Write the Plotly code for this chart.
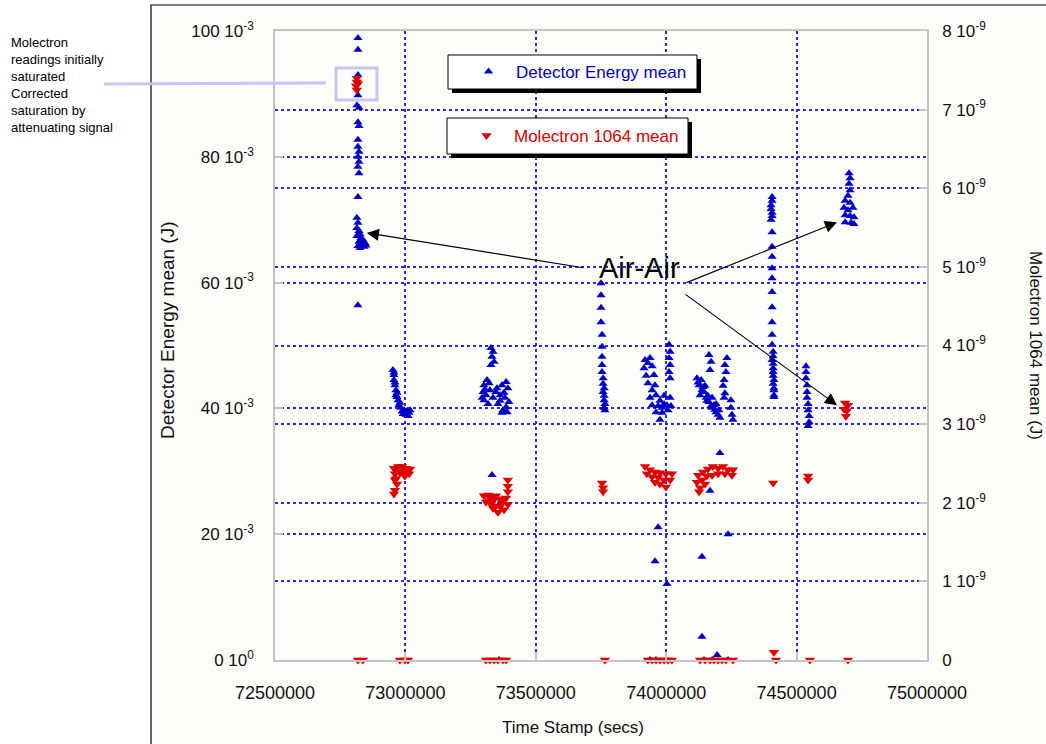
import plotly.graph_objects as go

# ---------------- data: Detector Energy mean (J), left axis ----------------
det_time_a = [72818000, 72818000, 72818000, 72818000, 72814000, 72822000, 72818000, 72822000, 72818000, 72818000,
              72822000, 72818000, 72822000, 72818000, 72822000, 72818000, 72814000, 72818000, 72814000, 72822000,
              72826000, 72814000, 72830000, 72837000, 72822000, 72845000, 72834000, 72818000, 72849000, 72826000,
              72818000, 72841000, 72830000]
det_energy_a = [0.0989, 0.0970, 0.0930, 0.0898, 0.0882, 0.0878, 0.0855, 0.0849, 0.0827, 0.0816,
                0.0808, 0.0800, 0.0792, 0.0784, 0.0774, 0.0736, 0.0703, 0.0695, 0.0687, 0.0682,
                0.0677, 0.0674, 0.0671, 0.0668, 0.0665, 0.0663, 0.0660, 0.0658, 0.0659, 0.0655,
                0.0564, 0.0657, 0.0662]

det_time_b = [72952000, 72956000, 72956000, 72960000, 72964000, 72964000, 72968000, 72972000, 72979000, 72975000,
              72983000, 72995000, 73006000, 73018000, 72991000, 73010000, 72956000, 72960000, 72968000, 72987000,
              73002000, 73014000]
det_energy_b = [0.0461, 0.0453, 0.0445, 0.0437, 0.0429, 0.0421, 0.0418, 0.0413, 0.0409, 0.0405,
                0.0401, 0.0397, 0.0396, 0.0397, 0.0391, 0.0388, 0.0457, 0.0441, 0.0425, 0.0395,
                0.0390, 0.0393]

det_time_c = [73328000, 73336000, 73332000, 73340000, 73328000, 73301000, 73313000, 73321000, 73298000, 73309000,
              73324000, 73301000, 73317000, 73294000, 73351000, 73370000, 73386000, 73393000, 73363000, 73382000,
              73397000, 73355000, 73374000, 73390000, 73370000, 73347000, 73336000, 73332000, 73359000, 73305000,
              73378000, 73386000, 73363000]
det_energy_c = [0.0496, 0.0490, 0.0482, 0.0474, 0.0469, 0.0437, 0.0445, 0.0440, 0.0426, 0.0421,
                0.0429, 0.0413, 0.0407, 0.0417, 0.0432, 0.0437, 0.0442, 0.0432, 0.0421, 0.0417,
                0.0410, 0.0407, 0.0397, 0.0394, 0.0393, 0.0426, 0.0417, 0.0294, 0.0, 0.0430,
                0.0425, 0.0402, 0.0412]

det_time_d = [73750000, 73750000, 73750000, 73750000, 73754000, 73754000, 73754000, 73754000, 73754000, 73758000,
              73758000, 73762000, 73758000, 73762000, 73762000, 73765000, 73762000, 73765000]
det_energy_d = [0.0599, 0.0580, 0.0560, 0.0537, 0.0517, 0.0498, 0.0482, 0.0469, 0.0458, 0.0448,
                0.0439, 0.0432, 0.0426, 0.0420, 0.0413, 0.0407, 0.0401, 0.0397]

det_time_e = [73919000, 73938000, 73915000, 73946000, 73923000, 73953000, 73930000, 73957000, 73946000, 74011000,
              74015000, 74011000, 74015000, 74011000, 74015000, 73938000, 73961000, 73992000, 74015000, 73946000,
              73969000, 73992000, 74018000, 73961000, 73984000, 74007000, 73976000, 73969000, 73957000, 74003000,
              73938000, 73961000, 73976000, 73984000, 74003000, 73930000]
det_energy_e = [0.0477, 0.0480, 0.0464, 0.0467, 0.0452, 0.0453, 0.0440, 0.0437, 0.0429, 0.0501,
                0.0490, 0.0480, 0.0469, 0.0458, 0.0448, 0.0417, 0.0421, 0.0420, 0.0417, 0.0405,
                0.0404, 0.0407, 0.0404, 0.0394, 0.0393, 0.0397, 0.0382, 0.0211, 0.0157, 0.0121,
                0.0, 0.0, 0.0412, 0.0401, 0.0405, 0.0472]

det_time_f = [74118000, 74126000, 74137000, 74130000, 74145000, 74153000, 74164000, 74183000, 74176000, 74191000,
              74206000, 74199000, 74164000, 74172000, 74168000, 74233000, 74225000, 74229000, 74222000, 74218000,
              74225000, 74222000, 74248000, 74248000, 74252000, 74256000, 74206000, 74168000, 74137000, 74237000,
              74137000, 74195000, 74145000, 74176000, 74237000, 74122000, 74141000, 74156000, 74172000, 74187000,
              74134000, 74149000, 74160000, 74176000, 74191000, 74202000]
det_energy_f = [0.0448, 0.0437, 0.0429, 0.0421, 0.0426, 0.0417, 0.0410, 0.0405, 0.0401, 0.0394,
                0.0385, 0.0390, 0.0485, 0.0474, 0.0461, 0.0480, 0.0469, 0.0458, 0.0445, 0.0436,
                0.0424, 0.0417, 0.0413, 0.0401, 0.0390, 0.0382, 0.0329, 0.0269, 0.0164, 0.0200,
                0.0037, 0.0008, 0.0, 0.0, 0.0, 0.0441, 0.0434, 0.0412, 0.0404, 0.0398,
                0.0445, 0.0436, 0.0420, 0.0417, 0.0407, 0.0397]

det_time_g = [74406000, 74406000, 74402000, 74402000, 74406000, 74406000, 74402000, 74406000, 74406000, 74406000,
              74406000, 74406000, 74406000, 74406000, 74406000, 74406000, 74406000, 74410000, 74410000, 74406000,
              74410000, 74410000, 74410000, 74410000, 74413000, 74410000, 74413000, 74413000, 74413000, 74413000]
det_energy_g = [0.0736, 0.0730, 0.0723, 0.0717, 0.0711, 0.0706, 0.0700, 0.0680, 0.0657, 0.0641,
                0.0623, 0.0607, 0.0585, 0.0561, 0.0537, 0.0517, 0.0501, 0.0490, 0.0483, 0.0477,
                0.0471, 0.0464, 0.0458, 0.0452, 0.0445, 0.0439, 0.0432, 0.0429, 0.0421, 0.0418]

det_time_h = [74536000, 74536000, 74536000, 74540000, 74540000, 74540000, 74544000, 74544000, 74548000, 74548000,
              74544000]
det_energy_h = [0.0467, 0.0458, 0.0448, 0.0437, 0.0426, 0.0417, 0.0407, 0.0397, 0.0388, 0.0378,
                0.0372]

det_time_i = [74701000, 74705000, 74701000, 74705000, 74697000, 74686000, 74705000, 74682000, 74697000, 74716000,
              74686000, 74705000, 74720000, 74686000, 74709000, 74720000]
det_energy_i = [0.0774, 0.0766, 0.0757, 0.0747, 0.0738, 0.0730, 0.0727, 0.0719, 0.0715, 0.0719,
                0.0707, 0.0706, 0.0704, 0.0696, 0.0695, 0.0693]

# ---------------- data: Molectron 1064 mean (J), right axis ----------------
mol_time_a = [72814000, 72814000, 72811000, 72814000, 72818000, 72818000, 72837000]
mol_energy_a = [7.40e-9, 7.35e-9, 7.30e-9, 7.25e-9, 7.33e-9, 0.0, 0.0]

mol_time_b = [72956000, 72972000, 72987000, 73002000, 73018000, 72960000, 72979000, 72998000, 73014000, 72960000,
              72968000, 72960000, 72956000, 72979000, 72998000, 73010000, 72991000, 73006000, 72964000, 72964000]
mol_energy_b = [2.44e-9, 2.46e-9, 2.46e-9, 2.44e-9, 2.43e-9, 2.37e-9, 2.38e-9, 2.34e-9, 2.37e-9, 2.29e-9,
                2.24e-9, 2.16e-9, 2.11e-9, 0.0, 0.0, 0.0, 2.40e-9, 2.39e-9, 2.31e-9, 2.41e-9]

mol_time_c = [73301000, 73317000, 73332000, 73347000, 73363000, 73378000, 73309000, 73328000, 73347000, 73363000,
              73378000, 73355000, 73393000, 73393000, 73393000, 73386000, 73393000, 73340000,
              73309000, 73324000, 73340000, 73355000, 73374000, 73386000, 73321000, 73370000, 73336000]
mol_energy_c = [2.09e-9, 2.10e-9, 2.07e-9, 2.09e-9, 2.05e-9, 2.04e-9, 2.01e-9, 1.98e-9, 1.96e-9, 1.95e-9,
                1.91e-9, 1.88e-9, 2.29e-9, 2.21e-9, 2.14e-9, 2.06e-9, 1.98e-9, 2.04e-9,
                0.0, 0.0, 0.0, 0.0, 0.0, 0.0, 2.03e-9, 2.00e-9, 1.93e-9]

mol_time_d = [73754000, 73758000, 73758000, 73765000]
mol_energy_d = [2.25e-9, 2.19e-9, 2.14e-9, 0.0]

mol_time_e = [73919000, 73938000, 73957000, 73976000, 73999000, 74022000, 73926000, 73946000, 73969000, 73992000,
              74015000, 73976000, 73999000, 73957000,
              73930000, 73946000, 73961000, 73976000, 73992000, 74007000, 74022000]
mol_energy_e = [2.46e-9, 2.42e-9, 2.39e-9, 2.38e-9, 2.37e-9, 2.37e-9, 2.37e-9, 2.33e-9, 2.32e-9, 2.29e-9,
                2.29e-9, 2.24e-9, 2.20e-9, 2.26e-9,
                0.0, 0.0, 0.0, 0.0, 0.0, 0.0, 0.0]

mol_time_f = [74122000, 74141000, 74160000, 74179000, 74199000, 74218000, 74237000, 74256000, 74118000, 74137000,
              74156000, 74176000, 74199000, 74225000, 74252000, 74130000, 74149000, 74126000,
              74130000, 74149000, 74168000, 74183000, 74199000, 74214000, 74229000, 74256000]
mol_energy_f = [2.35e-9, 2.39e-9, 2.43e-9, 2.46e-9, 2.44e-9, 2.46e-9, 2.42e-9, 2.42e-9, 2.26e-9, 2.29e-9,
                2.34e-9, 2.35e-9, 2.37e-9, 2.37e-9, 2.35e-9, 2.19e-9, 2.24e-9, 2.14e-9,
                0.0, 0.0, 0.0, 0.0, 0.0, 0.0, 0.0, 0.0]

mol_time_g = [74410000, 74413000, 74421000, 74544000, 74544000, 74551000]
mol_energy_g = [2.25e-9, 0.10e-9, 0.0, 2.34e-9, 2.29e-9, 0.0]

mol_time_i = [74686000, 74697000, 74682000, 74693000, 74689000, 74697000]
mol_energy_i = [3.27e-9, 3.24e-9, 3.19e-9, 3.17e-9, 3.10e-9, 0.0]

x_ticks = [72500000, 73000000, 73500000, 74000000, 74500000, 75000000]
x_labels = ["72500000", "73000000", "73500000", "74000000", "74500000", "75000000"]
y_ticks = [0.0, 0.02, 0.04, 0.06, 0.08, 0.10]
y_labels = ["0 10<sup>0</sup>", "20 10<sup>-3</sup>", "40 10<sup>-3</sup>", "60 10<sup>-3</sup>",
            "80 10<sup>-3</sup>", "100 10<sup>-3</sup>"]
y2_ticks = [0.0, 1e-9, 2e-9, 3e-9, 4e-9, 5e-9, 6e-9, 7e-9, 8e-9]
y2_labels = ["0", "1 10<sup>-9</sup>", "2 10<sup>-9</sup>", "3 10<sup>-9</sup>", "4 10<sup>-9</sup>",
             "5 10<sup>-9</sup>", "6 10<sup>-9</sup>", "7 10<sup>-9</sup>", "8 10<sup>-9</sup>"]

det_time = det_time_a + det_time_b + det_time_c + det_time_d + det_time_e + det_time_f + det_time_g + det_time_h + det_time_i
det_energy = (det_energy_a + det_energy_b + det_energy_c + det_energy_d + det_energy_e + det_energy_f
              + det_energy_g + det_energy_h + det_energy_i)
mol_time = mol_time_a + mol_time_b + mol_time_c + mol_time_d + mol_time_e + mol_time_f + mol_time_g + mol_time_i
mol_energy = (mol_energy_a + mol_energy_b + mol_energy_c + mol_energy_d + mol_energy_e + mol_energy_f
              + mol_energy_g + mol_energy_i)

# ---------------- layout geometry (pixels) ----------------
W, H = 1046, 744
L, R, T, B = 275, 927, 31, 660


def fx(p):
    return (p - L) / (R - L)


def fy(p):
    return (B - p) / (B - T)


FONT = "Liberation Sans, Arial, sans-serif"
BLUE = "#0000c8"
RED = "#e00000"
GRID = "#2b2bf0"
AXC = "#c4c4c4"
BG = "#fdfdf9"

fig = go.Figure()
fig.add_trace(go.Scatter(
    x=det_time, y=det_energy, mode="markers", name="Detector Energy mean",
    marker=dict(symbol="triangle-up", size=8, color=BLUE, line=dict(width=0)),
    cliponaxis=False, yaxis="y", legend="legend", showlegend=True))
fig.add_trace(go.Scatter(
    x=mol_time, y=mol_energy, mode="markers", name="Molectron 1064 mean",
    marker=dict(symbol="triangle-down", size=9, color=RED, line=dict(width=0)),
    cliponaxis=False, yaxis="y2", legend="legend2", showlegend=True))

axis_common = dict(showgrid=True, gridcolor=GRID, griddash="dot", gridwidth=1.5,
                   showline=True, linecolor=AXC, linewidth=1.5, ticks="inside", ticklen=8,
                   tickcolor=AXC, tickwidth=1.5, zeroline=False,
                   tickfont=dict(family=FONT, size=17, color="#111111"))

fig.update_layout(
    width=W, height=H, showlegend=True,
    margin=dict(l=L, r=W - R, t=T, b=H - B, pad=0),
    paper_bgcolor="white", plot_bgcolor=BG,
    font=dict(family=FONT, color="#111111"),
    xaxis=dict(range=[72500000, 75000000], tickmode="array", tickvals=x_ticks, ticktext=x_labels,
               mirror=True, ticklabelstandoff=16, **axis_common),
    yaxis=dict(range=[0, 0.1], tickmode="array", tickvals=y_ticks, ticktext=y_labels,
               mirror=True, ticklabelstandoff=16, **axis_common),
    yaxis2=dict(range=[0, 8e-9], tickmode="array", tickvals=y2_ticks, ticktext=y2_labels,
                overlaying="y", side="right", ticklabelstandoff=10, **axis_common),
    legend=dict(x=fx(461), y=fy(72), xanchor="left", yanchor="middle", bgcolor="rgba(0,0,0,0)",
                borderwidth=0, itemwidth=45, font=dict(family=FONT, size=17, color=BLUE)),
    legend2=dict(x=fx(459), y=fy(136), xanchor="left", yanchor="middle", bgcolor="rgba(0,0,0,0)",
                 borderwidth=0, itemwidth=45, font=dict(family=FONT, size=17, color=RED)),
)
fig.update_xaxes(tickfont_size=18)

shapes = [
    # outer frame
    dict(type="rect", xref="paper", yref="paper", x0=fx(151), y0=fy(5), x1=fx(1070), y1=fy(770),
         line=dict(color="black", width=1.2), fillcolor=BG, layer="below"),
    # saturation marker
    dict(type="line", xref="paper", yref="paper", x0=fx(104), y0=fy(84), x1=fx(326), y1=fy(83),
         line=dict(color="#c6c6f2", width=3)),
    dict(type="rect", xref="paper", yref="paper", x0=fx(336), y0=fy(68), x1=fx(377), y1=fy(100),
         line=dict(color="#c6c6f2", width=3), fillcolor="rgba(0,0,0,0)"),
    # legend boxes with shadows
    dict(type="rect", xref="paper", yref="paper", x0=fx(452), y0=fy(59), x1=fx(701), y1=fy(93),
         line=dict(width=0), fillcolor="black", layer="above"),
    dict(type="rect", xref="paper", yref="paper", x0=fx(448), y0=fy(55), x1=fx(697), y1=fy(89),
         line=dict(color="black", width=1), fillcolor="white", layer="above"),
    dict(type="rect", xref="paper", yref="paper", x0=fx(451), y0=fy(122), x1=fx(692), y1=fy(158),
         line=dict(width=0), fillcolor="black", layer="above"),
    dict(type="rect", xref="paper", yref="paper", x0=fx(447), y0=fy(118), x1=fx(688), y1=fy(154),
         line=dict(color="black", width=1), fillcolor="white", layer="above"),
]
fig.update_layout(shapes=shapes)

ann = [
    dict(text="Molectron<br>readings initially<br>saturated<br>Corrected<br>saturation by<br>attenuating signal",
         xref="paper", yref="paper", x=fx(9), y=fy(33), xanchor="left", yanchor="top", align="left",
         showarrow=False, font=dict(family=FONT, size=13, color="black")),
    dict(text="Time Stamp (secs)", xref="paper", yref="paper", x=fx(573), y=fy(727),
         xanchor="center", yanchor="middle", showarrow=False, font=dict(family=FONT, size=17, color="#111111")),
    dict(text="Detector Energy mean (J)", xref="paper", yref="paper", x=fx(167), y=fy(330), textangle=-90,
         xanchor="center", yanchor="middle", showarrow=False, font=dict(family=FONT, size=19, color="#111111")),
    dict(text="Molectron 1064 mean (J)", xref="paper", yref="paper", x=fx(1036), y=fy(345), textangle=90,
         xanchor="center", yanchor="middle", showarrow=False, font=dict(family=FONT, size=17, color="#111111")),
    dict(text="Air-Air", xref="paper", yref="paper", x=fx(639), y=fy(268),
         xanchor="center", yanchor="middle", showarrow=False, font=dict(family=FONT, size=29, color="black")),
    # arrows (tips at the data clusters, tails near the label)
    dict(text="", x=72852000, y=0.0679, xref="x", yref="y", ax=218, ay=35, axref="pixel", ayref="pixel",
         showarrow=True, arrowhead=2, arrowsize=2.2, arrowwidth=1.1, arrowcolor="black", standoff=0),
    dict(text="", x=74655000, y=0.0696, xref="x", yref="y", ax=-152, ay=61, axref="pixel", ayref="pixel",
         showarrow=True, arrowhead=2, arrowsize=2.2, arrowwidth=1.1, arrowcolor="black", standoff=0),
    dict(text="", x=74655000, y=0.0405, xref="x", yref="y", ax=-153, ay=-112, axref="pixel", ayref="pixel",
         showarrow=True, arrowhead=2, arrowsize=2.2, arrowwidth=1.1, arrowcolor="black", standoff=0),
]
fig.update_layout(annotations=ann)

fig.write_html("out.html", config={"displayModeBar": False},
               post_script="document.body.style.margin='0px';document.body.style.padding='0px';")
